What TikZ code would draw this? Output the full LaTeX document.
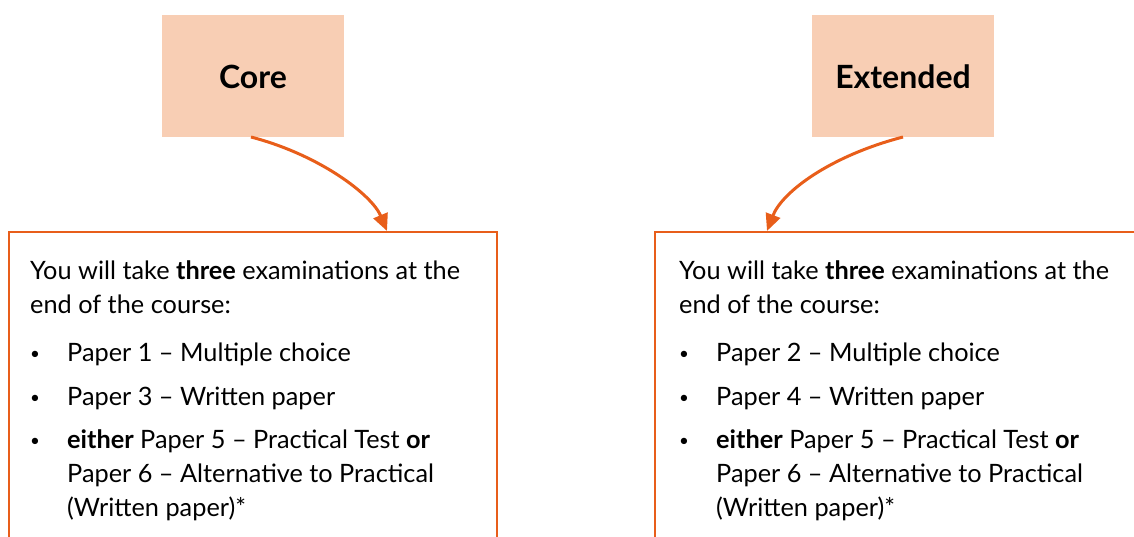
\documentclass[tikz,border=0pt]{standalone}
\usepackage{fontspec}
\setmainfont{Lato}
\usetikzlibrary{arrows.meta}
\definecolor{boxorange}{RGB}{232,94,26}
\definecolor{peach}{RGB}{248,206,180}
\tikzset{
  headbox/.style={fill=peach, draw=none, minimum width=182pt, minimum height=122pt, inner sep=0pt},
  headtxt/.style={anchor=base, inner sep=0pt, font=\fontsize{32}{36}\selectfont\bfseries},
  frameline/.style={draw=boxorange, line width=2.4pt},
  link/.style={draw=boxorange, line width=3pt, -{Triangle[length=17pt,width=15pt]}},
  txt/.style={anchor=base west, inner sep=0pt, font=\fontsize{25.3}{30}\selectfont},
  bul/.style={anchor=base west, inner sep=0pt, font=\fontsize{17}{20}\selectfont}
}
\begin{document}
\begin{tikzpicture}[x=1pt,y=-1pt]
\useasboundingbox (0,0) rectangle (1134,536);
\clip (0,0) rectangle (1134,536);
% header boxes
\node[headbox] (core) at (253,76) {};
\node[headtxt] (coret) at (253,88) {Core};
\node[headbox] (ext) at (903,76) {};
\node[headtxt] (extt) at (903,88) {Extended};
% frames (open at the bottom)
\coordinate (lbl) at (9,545);
\coordinate (ltl) at (9,232);
\coordinate (ltr) at (497,232);
\coordinate (lbr) at (497,545);
\draw[frameline] (lbl) -- (ltl) -- (ltr) -- (lbr);
\coordinate (rbl) at (655,545);
\coordinate (rtl) at (655,232);
\coordinate (rtr) at (1145,232);
\draw[frameline] (rbl) -- (rtl) -- (rtr);
% arrows
\coordinate (cs) at (251,137);
\coordinate (ce) at (387,231);
\draw[link] (cs) .. controls (320,155) and (372,195) .. (ce);
\coordinate (es) at (903,137);
\coordinate (ee) at (767,231);
\draw[link] (es) .. controls (830,156) and (782,192) .. (ee);
% left text
\node[txt] (a1) at (30,279) {You will take \textbf{three} examinations at the};
\node[txt] (a2) at (30,313) {end of the course:};
\node[bul] (ab1) at (30,359) {•};
\node[txt] (a3) at (67,361) {Paper 1 – Multiple choice};
\node[bul] (ab2) at (30,403) {•};
\node[txt] (a4) at (67,405) {Paper 3 – Written paper};
\node[bul] (ab3) at (30,446) {•};
\node[txt] (a5) at (67,448) {\textbf{either} Paper 5 – Practical Test \textbf{or}};
\node[txt] (a6) at (67,482) {Paper 6 – Alternative to Practical};
\node[txt] (a7) at (67,516) {(Written paper)*};
% right text
\node[txt] (b1) at (679,279) {You will take \textbf{three} examinations at the};
\node[txt] (b2) at (679,313) {end of the course:};
\node[bul] (bb1) at (679,359) {•};
\node[txt] (b3) at (716,361) {Paper 2 – Multiple choice};
\node[bul] (bb2) at (679,403) {•};
\node[txt] (b4) at (716,405) {Paper 4 – Written paper};
\node[bul] (bb3) at (679,446) {•};
\node[txt] (b5) at (716,448) {\textbf{either} Paper 5 – Practical Test \textbf{or}};
\node[txt] (b6) at (716,482) {Paper 6 – Alternative to Practical};
\node[txt] (b7) at (716,516) {(Written paper)*};
\end{tikzpicture}
\end{document}
